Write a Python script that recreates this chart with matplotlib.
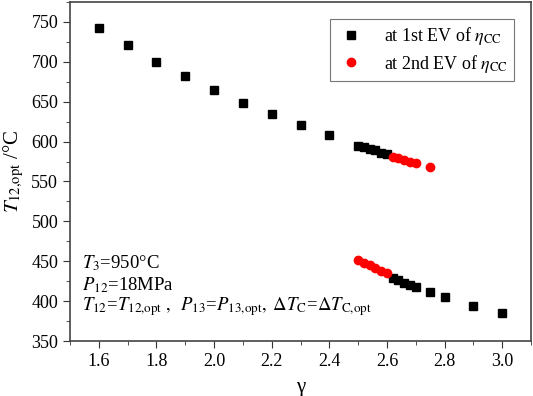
import matplotlib
matplotlib.use('Agg')
import matplotlib.pyplot as plt
from matplotlib.ticker import MultipleLocator

plt.rcParams['font.family'] = ['Liberation Serif', 'DejaVu Serif']
plt.rcParams['mathtext.fontset'] = 'stix'

# 1st EV of eta_CC (black squares)
gamma_1st = [1.6, 1.7, 1.8, 1.9, 2.0, 2.1, 2.2, 2.3, 2.4,
             2.50, 2.52, 2.54, 2.56, 2.58, 2.60,
             2.62, 2.64, 2.66, 2.68, 2.70, 2.75, 2.8, 2.9, 3.0]
t12_1st = [743, 721, 700, 682, 665, 649, 634, 621, 608,
           595, 593, 591, 589, 586, 584,
           429, 426, 423, 420, 418, 411, 405, 394, 385]

# 2nd EV of eta_CC (red circles)
gamma_2nd = [2.62, 2.64, 2.66, 2.68, 2.70, 2.75,
             2.50, 2.52, 2.54, 2.56, 2.58, 2.60]
t12_2nd = [581, 579, 577, 575, 573, 568,
           452, 448, 445, 442, 438, 435]

fig = plt.figure(figsize=(5.33, 3.96), dpi=100)
ax = fig.add_axes([70/533, 55/396, 461/533, 339/396])

ax.plot(gamma_1st, t12_1st, 's', color='black', markersize=6,
        label=r'at 1st EV of $\eta_{\mathrm{CC}}$')
ax.plot(gamma_2nd, t12_2nd, 'o', color='#ff0000', markersize=6,
        label=r'at 2nd EV of $\eta_{\mathrm{CC}}$')

ax.set_xlim(1.5, 3.1)
ax.set_ylim(350, 775)
ax.xaxis.set_major_locator(MultipleLocator(0.2))
ax.xaxis.set_minor_locator(MultipleLocator(0.1))
ax.yaxis.set_major_locator(MultipleLocator(50))
ax.yaxis.set_minor_locator(MultipleLocator(25))
ax.tick_params(which='both', direction='out', top=False, right=False,
               labelsize=13, color='#333333')
ax.tick_params(which='major', length=5)
ax.tick_params(which='minor', length=3)
for s in ax.spines.values():
    s.set_color('#444444')
    s.set_linewidth(1.2)

ax.set_xlabel('γ', fontsize=15, labelpad=6)
ax.set_ylabel(r'$T_{\mathrm{12{,}opt}}$ /°C', fontsize=15, labelpad=4)

leg = ax.legend(loc='upper right', bbox_to_anchor=(0.963, 0.95), fontsize=13,
                frameon=True, fancybox=False, handletextpad=1.0,
                borderpad=0.35, labelspacing=0.3, handlelength=1.6,
                borderaxespad=0)
leg.get_frame().set_edgecolor('#555555')
leg.get_frame().set_linewidth(0.8)

ax.text(0.025, 0.213, r'$T_3$=950°C', transform=ax.transAxes, fontsize=13.5)
ax.text(0.025, 0.151, r'$P_{12}$=18MPa', transform=ax.transAxes, fontsize=13.5)
ax.text(0.025, 0.09,
        r'$T_{12}$=$T_{\mathrm{12{,}opt}}\;,\;\;P_{13}$=$P_{\mathrm{13{,}opt}},\;'
        r'\Delta T_{\mathrm{C}}$=$\Delta T_{\mathrm{C{,}opt}}$',
        transform=ax.transAxes, fontsize=13.5)

fig.savefig('out.png', dpi=100)
